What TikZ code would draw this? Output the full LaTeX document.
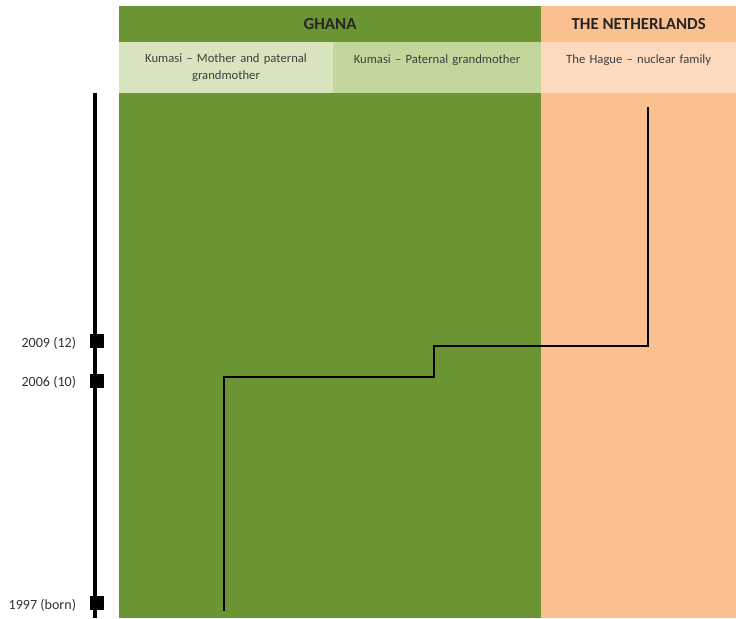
\documentclass[tikz,border=0pt]{standalone}
\usepackage{fontspec}
\setmainfont{Carlito}
\usepackage{xcolor}
\usetikzlibrary{positioning}
\definecolor{ghanagreen}{HTML}{6B9533}
\definecolor{ghanalight}{HTML}{D7E4BD}
\definecolor{ghanamid}{HTML}{C3D69B}
\definecolor{nlorange}{HTML}{FAC090}
\definecolor{nllight}{HTML}{FDD9BD}
\definecolor{yeargray}{HTML}{333333}
\tikzset{
  headcell/.style={anchor=north west, inner sep=0pt, outer sep=0pt, minimum height=0.9cm,
                   font=\fontsize{12}{13}\selectfont\bfseries, text=black!85},
  subcell/.style={anchor=north west, inner sep=0pt, outer sep=0pt, minimum height=1.275cm,
                  align=center, font=\fontsize{9}{12}\selectfont, text=black!75},
  yearmark/.style={fill=black, minimum size=0.33cm, inner sep=0pt},
  yearlabel/.style={font=\fontsize{10}{12}\selectfont, text=yeargray, anchor=east}
}

\begin{document}
\begin{tikzpicture}[
  x=0.025cm, y=-0.025cm,
  timeline/.style={line width=2.2pt, black},
  route/.style={line width=2pt, black, line join=miter},
]
\useasboundingbox (0,0) rectangle (736,618);

% Country columns
\fill[ghanagreen] (119,6) rectangle (541,618);
\fill[nlorange] (541,6) rectangle (736,618);

% Header row
\node[headcell, fill=ghanagreen, minimum width=10.55cm] (ghana) at (119,6) {GHANA};
\node[headcell, fill=nlorange, minimum width=4.875cm] (nl) at (ghana.north east) {THE NETHERLANDS};

% Places
\node[subcell, fill=ghanalight, minimum width=5.35cm, text width=4.6cm] (kumasiA) at (ghana.south west)
  {Kumasi -- Mother and paternal\\ grandmother};
\node[subcell, fill=ghanamid, minimum width=5.2cm, text width=4.8cm] (kumasiB) at (kumasiA.north east)
  {Kumasi -- Paternal grandmother\\ \mbox{}};
\node[subcell, fill=nllight, minimum width=4.875cm, text width=4.6cm] (hague) at (kumasiB.north east)
  {The Hague -- nuclear family\\ \mbox{}};

% Timeline
\coordinate (ttop) at (95,93);
\coordinate (tbottom) at (95,618);
\draw[timeline] (ttop) -- (tbottom);
\node[yearmark] (y2009) at (97,341) {};
\node[yearmark] (y2006) at (97,381) {};
\node[yearmark] (y1997) at (97,603) {};
\node[yearlabel] (l2009) at (81,343) {2009 (12)};
\node[yearlabel] (l2006) at (81,382) {2006 (10)};
\node[yearlabel] (l1997) at (81,605) {1997 (born)};

% Route
\coordinate (born) at (224,611);
\coordinate (move1) at (434,377);
\coordinate (move2) at (648,346);
\coordinate (now) at (648,107);
\draw[route] (born) |- (move1) |- (move2) -- (now);

\end{tikzpicture}
\end{document}
